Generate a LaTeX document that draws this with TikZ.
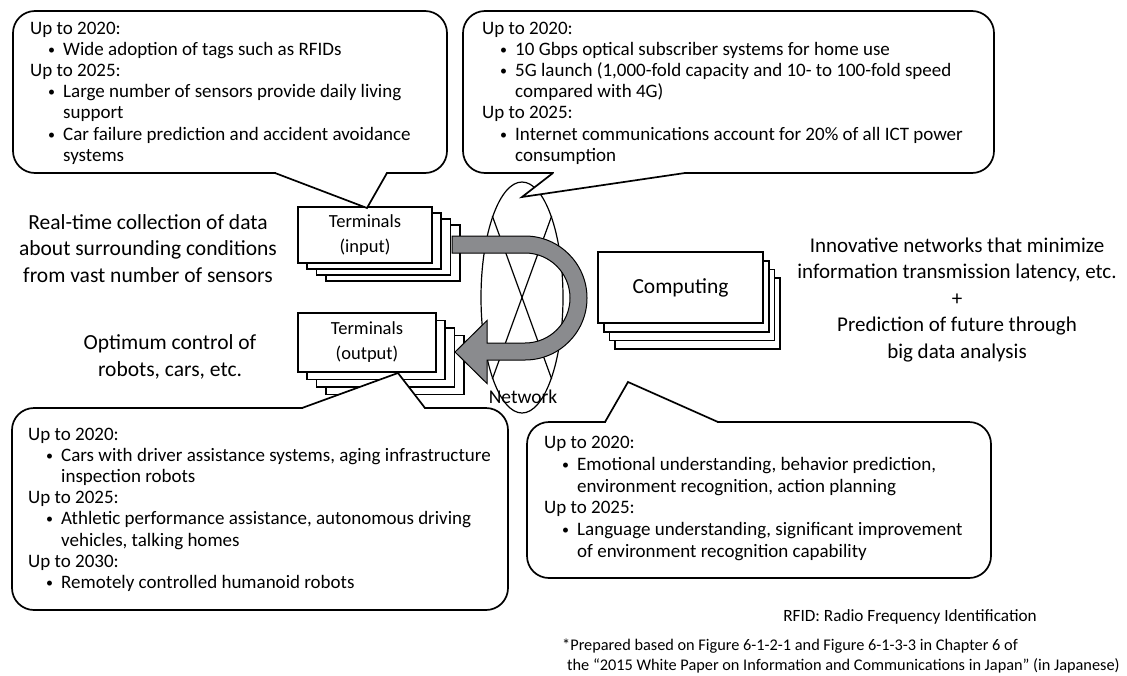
\documentclass[tikz,border=0pt]{standalone}
\usepackage{fontspec}
\setmainfont{Carlito}
\usetikzlibrary{shapes.geometric}
\definecolor{arrowgray}{RGB}{138,139,142}
\newcommand\itm{\hspace*{33pt}\llap{\raisebox{1pt}{\fontsize{14}{14}\selectfont\textbullet}\hspace{8pt}}}
\newcommand\cnt{\hspace*{33pt}}
\begin{document}
\begin{tikzpicture}[x=1pt,y=-1pt,
  callout/.style={draw,line width=1.7pt,rounded corners=22pt,fill=white},
  tailline/.style={line width=1.7pt,line join=miter},
  stackbox/.style={draw,line width=1.7pt,fill=white},
  ctext/.style={font=\fontsize{19}{21.1}\selectfont,align=left,inner sep=0pt,anchor=north west},
  bigtext/.style={font=\fontsize{21.5}{26.5}\selectfont,align=center,inner sep=0pt},
  termtext/.style={font=\fontsize{18.5}{25}\selectfont,align=center},
  note/.style={font=\fontsize{16.3}{20}\selectfont,inner sep=0pt}]
\useasboundingbox (0,0) rectangle (1127,675);
\fill[white] (0,0) rectangle (1127,675);

% ---- network ellipse ----
\node[draw,ellipse,line width=1.2pt,minimum width=82pt,minimum height=231pt,inner sep=0pt] (net) at (522,297.5) {};
\draw[line width=1.2pt] (net.110) -- (net.-70);
\draw[line width=1.2pt] (net.70) -- (net.-110);
\node[font=\fontsize{19.5}{22}\selectfont,inner sep=0pt] (netlabel) at (523,397) {Network};

% ---- terminals (input) stack ----
\draw[stackbox] (325.9,225) rectangle (459.9,281);
\draw[stackbox] (316.6,219) rectangle (450.6,275);
\draw[stackbox] (307.3,213) rectangle (441.3,269);
\node[stackbox,termtext,minimum width=134pt,minimum height=56pt] (tin) at (365,235) {Terminals\\(input)};

% ---- terminals (output) stack ----
\draw[stackbox] (325.9,335.5) rectangle (463.9,394.5);
\draw[stackbox] (316.6,328) rectangle (454.6,387);
\draw[stackbox] (307.3,320.5) rectangle (445.3,379.5);
\node[stackbox,termtext,minimum width=138pt,minimum height=59pt] (tout) at (367,342.5) {Terminals\\(output)};

% ---- computing stack ----
\draw[stackbox] (615.1,278.1) rectangle (780.1,349.1);
\draw[stackbox] (609.4,269.4) rectangle (774.4,340.4);
\draw[stackbox] (603.7,260.7) rectangle (768.7,331.7);
\node[stackbox,font=\fontsize{21.5}{25}\selectfont,minimum width=165pt,minimum height=71pt] (comp) at (680.5,287.5) {Computing};

% ---- U-turn arrow ----
\draw[fill=arrowgray,line width=1pt,line join=miter] (452,236) -- (525,236)
  arc[start angle=90,end angle=-90,radius=62pt] -- (487,360) -- (487,383.5)
  -- (455,352) -- (487,320.5) -- (487,343) -- (525,343)
  arc[start angle=-90,end angle=90,radius=45pt] -- (525,253) -- (452,253) -- cycle;

% ---- side texts ----
\node[bigtext] (ltext) at (148,248.5) {Real-time collection of data\\about surrounding conditions\\from vast number of sensors};
\node[bigtext] (otext) at (170,357) {Optimum control of\\robots, cars, etc.};
\node[bigtext,font=\fontsize{21}{26.5}\selectfont] (rtext) at (957,300) {Innovative networks that minimize\\information transmission latency, etc.\\+\\Prediction of future through\\big data analysis};

% ---- callout top-left ----
\node[callout,minimum width=434pt,minimum height=162pt] (cTL) at (230,92) {};
\coordinate (aTL) at (367,208);
\fill[white] (276,171) -- (276,173) -- (aTL) -- (386,173) -- (386,171) -- cycle;
\draw[tailline] (275,173) -- (aTL) -- (387,173);
\node[ctext] (tTL) at (30,22) {Up to 2020:\\
\itm Wide adoption of tags such as RFIDs\\
Up to 2025:\\
\itm Large number of sensors provide daily living\\
\cnt support\\
\itm Car failure prediction and accident avoidance\\
\cnt systems};

% ---- callout top-right ----
\node[callout,minimum width=531pt,minimum height=162pt] (cTR) at (728.5,92) {};
\coordinate (aTR) at (522,197);
\fill[white] (554,171) -- (554,173) -- (aTR) -- (684,173) -- (684,171) -- cycle;
\draw[tailline] (553,173) -- (aTR) -- (685,173);
\node[ctext] (tTR) at (482,22) {Up to 2020:\\
\itm 10 Gbps optical subscriber systems for home use\\
\itm 5G launch (1,000-fold capacity and 10- to 100-fold speed\\
\cnt compared with 4G)\\
Up to 2025:\\
\itm Internet communications account for 20\% of all ICT power\\
\cnt consumption};

% ---- callout lower-left ----
\node[callout,minimum width=496pt,minimum height=202pt] (cLL) at (260,509) {};
\coordinate (aLL) at (398,373);
\fill[white] (303,410) -- (303,408) -- (aLL) -- (424,408) -- (424,410) -- cycle;
\draw[tailline] (302,408) -- (aLL) -- (425,408);
\node[ctext] (tLL) at (28,428) {Up to 2020:\\
\itm Cars with driver assistance systems, aging infrastructure\\
\cnt inspection robots\\
Up to 2025:\\
\itm Athletic performance assistance, autonomous driving\\
\cnt vehicles, talking homes\\
Up to 2030:\\
\itm Remotely controlled humanoid robots};

% ---- callout lower-right ----
\node[callout,minimum width=464pt,minimum height=156pt] (cLR) at (759,500) {};
\coordinate (aLR) at (628,382);
\fill[white] (606,424) -- (606,422) -- (aLR) -- (717,422) -- (717,424) -- cycle;
\draw[tailline] (605,422) -- (aLR) -- (718,422);
\node[ctext,font=\fontsize{19}{21.8}\selectfont] (tLR) at (544,436) {Up to 2020:\\
\itm Emotional understanding, behavior prediction,\\
\cnt environment recognition, action planning\\
Up to 2025:\\
\itm Language understanding, significant improvement\\
\cnt of environment recognition capability};

% ---- notes ----
\node[note,anchor=base,font=\fontsize{17.2}{20}\selectfont] (rfid) at (910,621) {RFID: Radio Frequency Identification};
\node[note,anchor=base west] (fn1) at (562,650.5) {*Prepared based on Figure 6-1-2-1 and Figure 6-1-3-3 in Chapter 6 of};
\node[note,anchor=base west] (fn2) at (567,670.5) {the “2015 White Paper on Information and Communications in Japan” (in Japanese)};
\end{tikzpicture}
\end{document}
